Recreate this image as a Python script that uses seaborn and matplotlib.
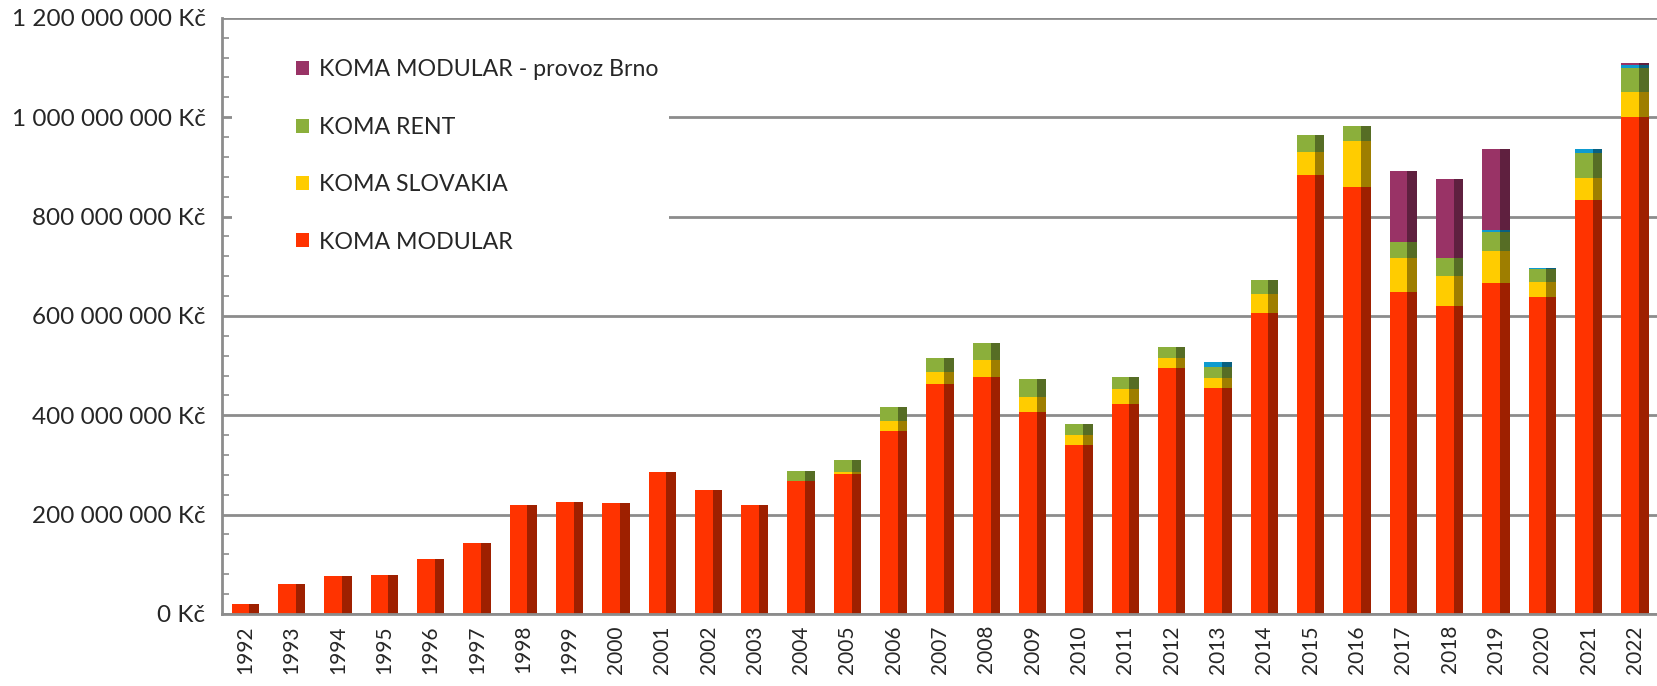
import pandas as pd
import numpy as np
import matplotlib
matplotlib.use("Agg")
import matplotlib.pyplot as plt
import matplotlib.colors as mcolors
from matplotlib.patches import Patch, Rectangle
from matplotlib.ticker import FuncFormatter, MultipleLocator, FixedLocator
import seaborn as sns

years = [str(y) for y in range(1992, 2023)]

# values in millions of Kč
modular = [19.5, 59.5, 77, 79, 110, 142, 220, 225.5, 223, 285, 249, 220, 268, 281, 368,
           463, 478, 407, 340, 423, 496, 455, 605, 883, 860, 649, 620, 666, 639, 834, 1000]
slovakia = [0, 0, 0, 0, 0, 0, 0, 0, 0, 0, 0, 0, 0, 4, 21,
            24, 33, 30, 20, 29, 20, 19, 39, 47, 93, 67, 61, 65, 30, 43, 50]
rent = [0, 0, 0, 0, 0, 0, 0, 0, 0, 0, 0, 0, 20, 24, 27,
        28, 34, 36, 22, 26, 21, 23, 28, 34, 29, 33, 35, 38, 25, 50, 50]
other = [0, 0, 0, 0, 0, 0, 0, 0, 0, 0, 0, 0, 0, 0, 0,
         0, 0, 0, 0, 0, 0, 11, 0, 0, 0, 0, 0, 4, 2, 9, 5]
brno = [0, 0, 0, 0, 0, 0, 0, 0, 0, 0, 0, 0, 0, 0, 0,
        0, 0, 0, 0, 0, 0, 0, 0, 0, 0, 142, 160, 162, 0, 0, 4]

series = ["KOMA MODULAR", "KOMA SLOVAKIA", "KOMA RENT", "other", "KOMA MODULAR - provoz Brno"]
colors = ["#FF3300", "#FFCC00", "#8BAF3B", "#0E9BCF", "#993366"]
legend_names = ["KOMA MODULAR - provoz Brno", "KOMA RENT", "KOMA SLOVAKIA", "KOMA MODULAR"]

df = pd.DataFrame({"year": years, series[0]: modular, series[1]: slovakia,
                   series[2]: rent, series[3]: other, series[4]: brno})
cum = df[series].cumsum(axis=1) * 1e6
cum["year"] = df["year"]

sns.set_style("white")
plt.rcParams["font.family"] = ["Lato", "DejaVu Sans"]

fig = plt.figure(figsize=(16.58, 6.86), dpi=100, facecolor="white")
ax = fig.add_axes([0.134, 0.105, 0.866, 0.869])

bar_w = 0.59
# draw top layer first so lower layers overlay it
for name, col in reversed(list(zip(series, colors))):
    n0 = len(ax.patches)
    sns.barplot(data=cum, x="year", y=name, color=col, width=bar_w, errorbar=None,
                saturation=1, linewidth=0, ax=ax, zorder=3)
    dark = tuple(np.array(mcolors.to_rgb(col)) * 0.62)
    for p in list(ax.patches[n0:]):
        h = p.get_height()
        if h <= 0:
            continue
        x0, w = p.get_x(), p.get_width()
        ax.add_patch(Rectangle((x0 + w * 0.65, 0), w * 0.35, h, facecolor=dark,
                               edgecolor="none", zorder=3))

ax.set_xlim(-0.5, 30.5)
ax.set_ylim(0, 1.2e9)
ax.set_xlabel("")
ax.set_ylabel("")

ax.yaxis.set_major_locator(MultipleLocator(2e8))
ax.yaxis.set_minor_locator(MultipleLocator(4e7))
ax.yaxis.set_major_formatter(FuncFormatter(lambda v, p: f"{int(v):,}".replace(",", " ") + " Kč"))
ax.grid(axis="y", which="major", color="#8c8c8c", linewidth=2.0, zorder=0)
ax.set_axisbelow(True)

ax.xaxis.set_minor_locator(FixedLocator(np.arange(-0.5, 31, 1)))
ax.tick_params(axis="x", which="major", length=0, labelsize=15, rotation=90, pad=8)
ax.tick_params(axis="x", which="minor", length=7, width=1.2, color="#8c8c8c", direction="out")
ax.tick_params(axis="y", which="major", length=6, width=1.5, color="#8c8c8c", direction="out", labelsize=17.5, pad=6)
ax.tick_params(axis="y", which="minor", length=5, width=1.2, color="#8c8c8c", direction="in", left=True)

for s in ["top", "right"]:
    ax.spines[s].set_visible(False)
for s in ["left", "bottom"]:
    ax.spines[s].set_color("#8c8c8c")
    ax.spines[s].set_linewidth(2.0)
    ax.spines[s].set_zorder(4)

# white area behind the legend (leaves the minor ticks visible)
ax.add_patch(Rectangle((0.007, 0.585), 0.304, 0.39, transform=ax.transAxes,
                       facecolor="white", edgecolor="none", zorder=2))

handles = [Patch(facecolor=colors[series.index(n)], edgecolor="none") for n in legend_names]
ax.legend(handles, legend_names, loc="upper left", bbox_to_anchor=(0.045, 0.946),
          frameon=False, fontsize=16.7, labelspacing=1.57, handlelength=0.55,
          handleheight=0.55, handletextpad=0.45, borderaxespad=0)

plt.savefig("out.png", dpi=100, facecolor="white")
